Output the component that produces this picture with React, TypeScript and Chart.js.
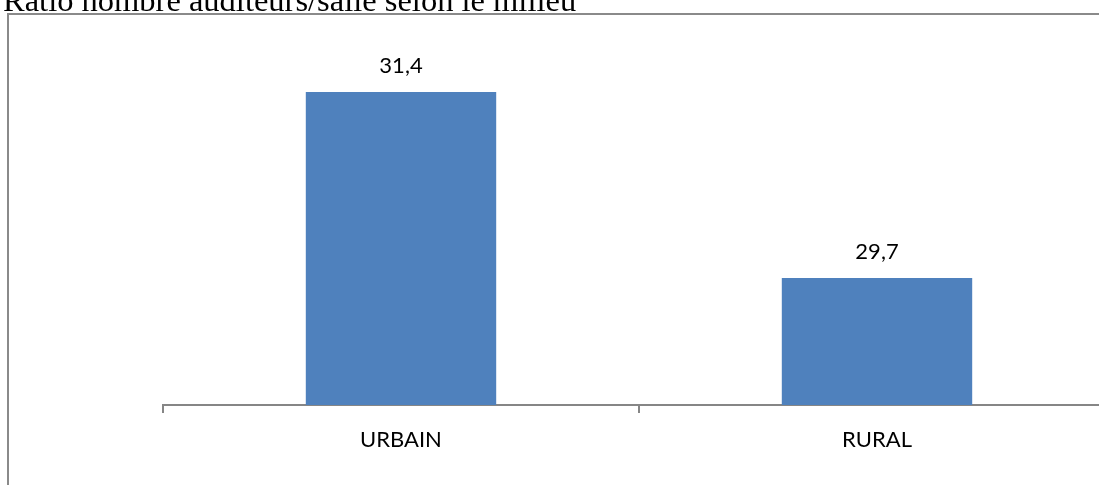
import React, { useEffect, useRef } from "react";
import { Chart, registerables } from "chart.js";

Chart.register(...registerables);

const titleText = "Ratio nombre auditeurs/salle selon le milieu";
const categories = ["URBAIN", "RURAL"];
const ratioValues = [31.4, 29.7];
const axisMin = 28.54;
const axisMax = 32;

const LABEL_FONT = "Lato";

const valueLabels = {
  id: "valueLabels",
  afterDatasetsDraw(chart: any) {
    const ctx = chart.ctx;
    const meta = chart.getDatasetMeta(0);
    ctx.save();
    ctx.font = `22px ${LABEL_FONT}`;
    ctx.fillStyle = "#000000";
    ctx.textAlign = "center";
    ctx.textBaseline = "alphabetic";
    meta.data.forEach((el: any, i: number) => {
      const v = chart.data.datasets[0].data[i] as number;
      ctx.fillText(v.toFixed(1).replace(".", ","), el.x, el.y - 19);
    });
    ctx.restore();
  },
};

export default function App() {
  const canvasRef = useRef<HTMLCanvasElement | null>(null);

  useEffect(() => {
    if (!canvasRef.current) return;
    const chart = new Chart(canvasRef.current, {
      type: "bar",
      data: {
        labels: categories,
        datasets: [
          {
            data: ratioValues,
            backgroundColor: "#4F81BD",
            borderWidth: 0,
            barPercentage: 0.4,
            categoryPercentage: 1.0,
          },
        ],
      },
      options: {
        responsive: false,
        animation: false,
        layout: { padding: { left: 163, right: 85, top: 26.44, bottom: 0 } },
        plugins: {
          legend: { display: false },
          tooltip: { enabled: false },
          title: { display: false },
        },
        scales: {
          x: {
            grid: {
              display: true,
              drawOnChartArea: false,
              drawTicks: true,
              tickLength: 8,
              color: "#868686",
              lineWidth: 2,
              offset: true,
            },
            border: { display: true, color: "#868686", width: 2 },
            ticks: {
              font: { family: LABEL_FONT, size: 22 },
              color: "#000000",
              padding: 14,
            },
            afterFit: (axis: any) => {
              axis.height = 80;
            },
          },
          y: {
            display: false,
            min: axisMin,
            max: axisMax,
          },
        },
      },
      plugins: [valueLabels],
    });
    if ((document as any).fonts) {
      (document as any).fonts.load(`22px ${LABEL_FONT}`).then(() => chart.update());
    }
    return () => chart.destroy();
  }, []);

  return (
    <div
      style={{
        position: "fixed",
        left: 0,
        top: 0,
        width: 1099,
        height: 485,
        overflow: "hidden",
        background: "#ffffff",
      }}
    >
      <div
        style={{
          position: "absolute",
          left: 7,
          top: 13,
          width: 1300,
          height: 700,
          border: "2px solid #8a8a8a",
          boxSizing: "border-box",
        }}
      />
      <canvas
        ref={canvasRef}
        width={1200}
        height={485}
        style={{ position: "absolute", left: 0, top: 0, width: 1200, height: 485 }}
      />
      <div
        style={{
          position: "absolute",
          left: 3,
          top: -16,
          fontFamily: "'Liberation Serif', 'Times New Roman', serif",
          fontSize: 32.5,
          lineHeight: "32px",
          whiteSpace: "nowrap",
          color: "#000000",
        }}
      >
        {titleText}
      </div>
    </div>
  );
}
